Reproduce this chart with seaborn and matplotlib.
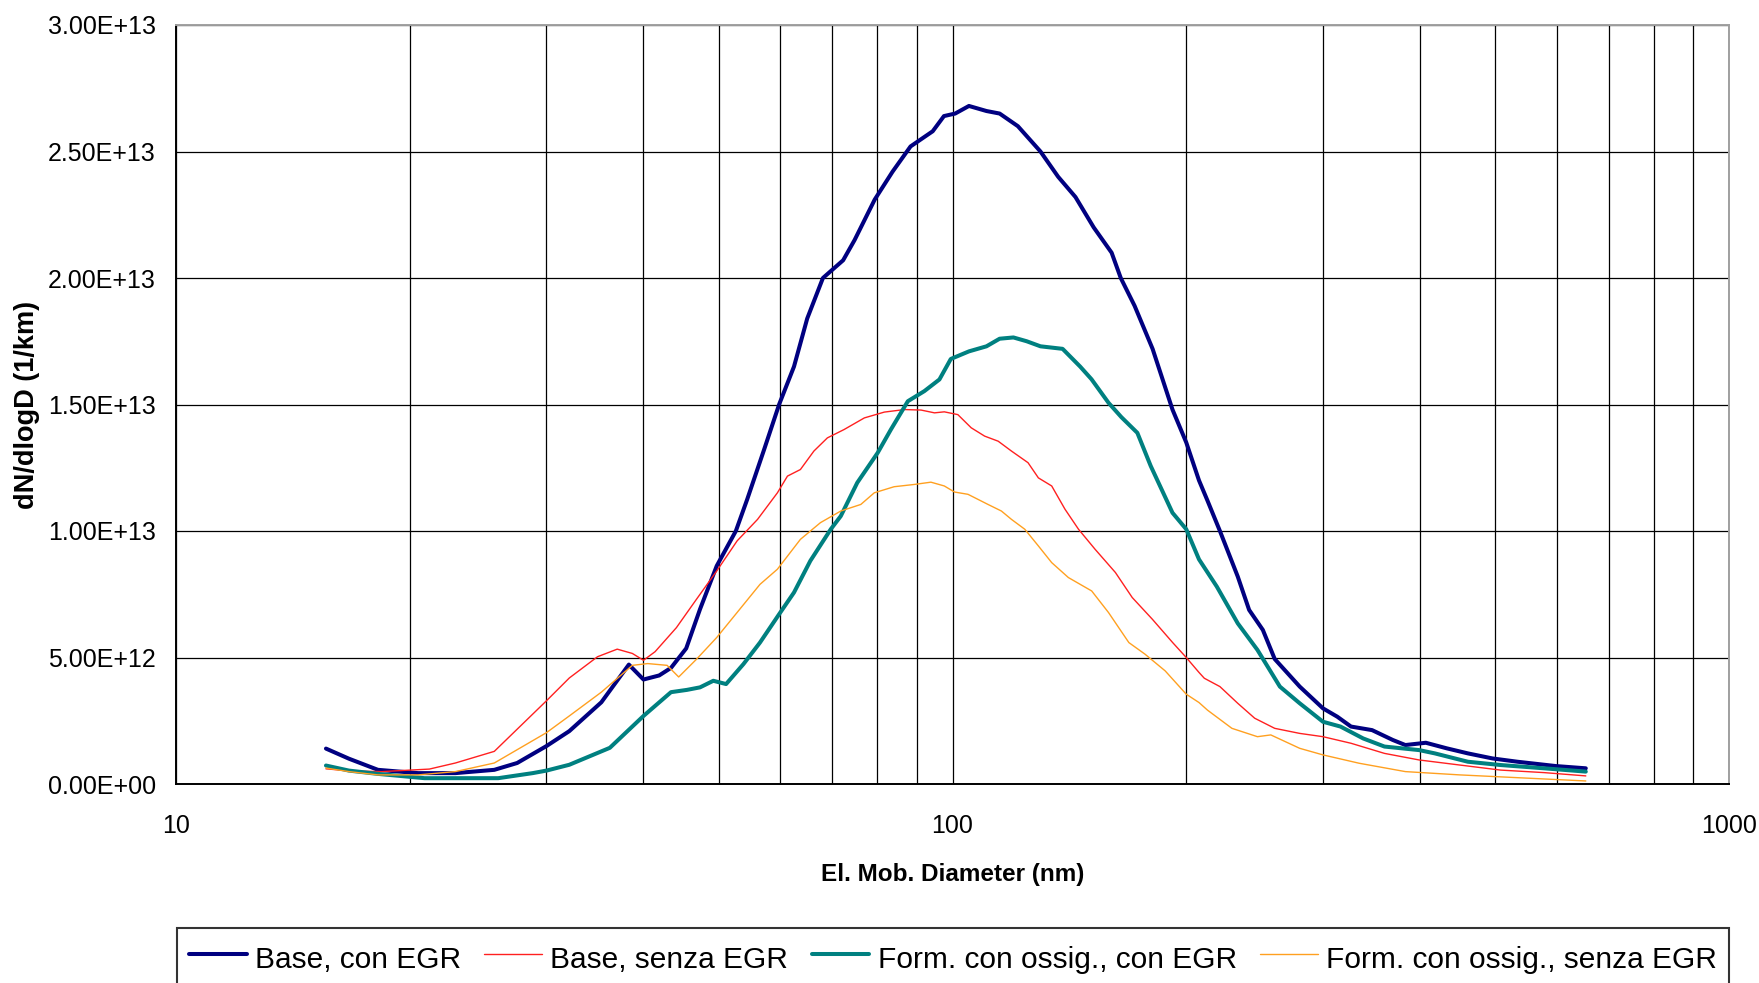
import matplotlib
matplotlib.use("Agg")
import matplotlib.pyplot as plt
import matplotlib.ticker as mticker
import pandas as pd
import seaborn as sns


# Base, con EGR
d_base_egr = [15.6, 16.7, 18.2, 20.5, 22.9, 25.7, 27.5, 30.0, 32.1, 35.3, 38.3, 40.0, 41.9, 43.4,
              45.4, 47.3, 49.7, 52.6, 54.4, 57.2, 59.8, 62.5, 65.0, 68.1, 72.3, 74.8, 79.4, 83.7,
              88.3, 94.3, 97.5, 100.8, 105, 110.6, 115, 121.4, 129.8, 136.8, 144, 152, 160.3,
              164.7, 171.6, 181, 192, 200, 207.7, 213, 221, 233, 241, 251, 260, 280, 300, 313,
              326, 347, 369, 383, 407, 433, 461, 496, 534, 598, 654]
n_base_egr = [1.40e12, 1.00e12, 0.56e12, 0.43e12, 0.43e12, 0.56e12, 0.83e12, 1.50e12, 2.09e12,
              3.23e12, 4.72e12, 4.13e12, 4.29e12, 4.59e12, 5.36e12, 6.91e12, 8.62e12, 1.00e13,
              1.125e13, 1.322e13, 1.50e13, 1.65e13, 1.84e13, 2.00e13, 2.07e13, 2.15e13, 2.31e13,
              2.42e13, 2.52e13, 2.58e13, 2.64e13, 2.65e13, 2.68e13, 2.66e13, 2.65e13, 2.60e13,
              2.50e13, 2.40e13, 2.32e13, 2.20e13, 2.10e13, 2.00e13, 1.89e13, 1.72e13, 1.48e13,
              1.35e13, 1.20e13, 1.12e13, 1.00e13, 8.2e12, 6.88e12, 6.09e12, 4.94e12, 3.85e12,
              2.99e12, 2.66e12, 2.27e12, 2.13e12, 1.74e12, 1.54e12, 1.63e12, 1.41e12, 1.21e12,
              1.01e12, 0.88e12, 0.71e12, 0.62e12]

# Base, senza EGR
d_base_noegr = [15.6, 16.7, 18.4, 21.2, 22.9, 25.7, 30.0, 32.1, 34.9, 37.0, 38.7, 40.0, 41.4,
                44.1, 46.8, 49.7, 52.8, 56.1, 59.5, 61.3, 63.7, 66.3, 69.0, 72.5, 77.0, 81.7,
                86.7, 91.1, 94.8, 97.6, 101.6, 105.7, 110.0, 114.5, 119.1, 125.1, 129.0, 134.2,
                139.6, 145.3, 152.6, 162.1, 170.4, 180.9, 192.1, 200, 207.7, 211, 221, 233, 245,
                260, 280, 300, 326, 360, 399, 450, 508, 578, 654]
n_base_noegr = [0.60e12, 0.52e12, 0.49e12, 0.59e12, 0.83e12, 1.29e12, 3.29e12, 4.19e12, 5.03e12,
                5.33e12, 5.16e12, 4.89e12, 5.23e12, 6.18e12, 7.30e12, 8.42e12, 9.61e12, 1.046e13,
                1.151e13, 1.217e13, 1.243e13, 1.316e13, 1.368e13, 1.401e13, 1.447e13, 1.47e13,
                1.48e13, 1.478e13, 1.467e13, 1.471e13, 1.46e13, 1.408e13, 1.375e13, 1.355e13,
                1.316e13, 1.27e13, 1.21e13, 1.178e13, 1.086e13, 1.007e13, 9.28e12, 8.36e12,
                7.37e12, 6.51e12, 5.59e12, 5.0e12, 4.41e12, 4.18e12, 3.85e12, 3.19e12, 2.60e12,
                2.20e12, 2.00e12, 1.87e12, 1.61e12, 1.21e12, 0.95e12, 0.75e12, 0.55e12, 0.45e12,
                0.32e12]

# Form. con ossig., con EGR
d_ox_egr = [15.6, 16.7, 18.2, 20.9, 26.0, 28.8, 30.0, 32.1, 36.2, 40.0, 43.4, 45.5, 47.3, 49.2,
            51.1, 53.8, 56.5, 59.8, 62.5, 65.6, 69.7, 71.8, 75.4, 80.1, 83.3, 87.6, 92.0, 96.2,
            99.5, 105, 110.6, 115, 119.8, 124.6, 129.8, 138.6, 146, 151, 158.8, 165, 173, 180,
            192, 200, 207.7, 219, 233, 247, 264, 280, 300, 316, 338, 360, 399, 418, 461, 508,
            578, 654]
n_ox_egr = [0.73e12, 0.53e12, 0.40e12, 0.23e12, 0.23e12, 0.43e12, 0.53e12, 0.76e12, 1.43e12,
            2.69e12, 3.63e12, 3.72e12, 3.82e12, 4.08e12, 3.95e12, 4.74e12, 5.59e12, 6.71e12,
            7.57e12, 8.82e12, 1.007e13, 1.059e13, 1.191e13, 1.309e13, 1.401e13, 1.513e13,
            1.553e13, 1.599e13, 1.68e13, 1.71e13, 1.73e13, 1.76e13, 1.765e13, 1.75e13, 1.73e13,
            1.72e13, 1.65e13, 1.60e13, 1.507e13, 1.45e13, 1.388e13, 1.257e13, 1.072e13,
            1.007e13, 8.88e12, 7.80e12, 6.35e12, 5.30e12, 3.85e12, 3.19e12, 2.46e12, 2.27e12,
            1.80e12, 1.48e12, 1.34e12, 1.21e12, 0.88e12, 0.75e12, 0.62e12, 0.49e12]

# Form. con ossig., senza EGR
d_ox_noegr = [15.6, 16.7, 18.2, 20.5, 22.9, 25.7, 30.0, 32.1, 35.3, 38.7, 40.5, 42.9, 44.4,
              46.8, 49.7, 52.8, 56.5, 59.5, 63.7, 67.6, 71.8, 76.2, 79.3, 84.1, 89.3, 93.8,
              97.6, 100.6, 104.7, 111.1, 115.6, 119.1, 123.9, 129.0, 134.2, 141.0, 151.1, 158.8,
              168.7, 177.0, 187.9, 200, 207.7, 213, 229, 247, 257, 280, 300, 334, 383, 450,
              534, 654]
n_ox_noegr = [0.63e12, 0.49e12, 0.36e12, 0.36e12, 0.49e12, 0.83e12, 2.03e12, 2.69e12, 3.63e12,
              4.69e12, 4.76e12, 4.69e12, 4.23e12, 4.93e12, 5.79e12, 6.78e12, 7.89e12, 8.49e12,
              9.67e12, 1.033e13, 1.079e13, 1.105e13, 1.151e13, 1.175e13, 1.184e13, 1.193e13,
              1.178e13, 1.154e13, 1.145e13, 1.105e13, 1.079e13, 1.046e13, 1.007e13, 9.41e12,
              8.75e12, 8.16e12, 7.63e12, 6.78e12, 5.59e12, 5.13e12, 4.47e12, 3.55e12, 3.22e12,
              2.92e12, 2.20e12, 1.87e12, 1.94e12, 1.41e12, 1.15e12, 0.82e12, 0.49e12, 0.36e12,
              0.25e12, 0.12e12]

SERIES = [
    ("Base, con EGR", d_base_egr, n_base_egr, "#000080", 2.9),
    ("Base, senza EGR", d_base_noegr, n_base_noegr, "#FF2020", 1.0),
    ("Form. con ossig., con EGR", d_ox_egr, n_ox_egr, "#008080", 2.9),
    ("Form. con ossig., senza EGR", d_ox_noegr, n_ox_noegr, "#FFA020", 1.0),
]

sns.set_theme(style="white")
plt.rcParams["font.family"] = ["Liberation Sans", "DejaVu Sans"]
plt.rcParams["text.color"] = "black"
plt.rcParams["axes.labelcolor"] = "black"

fig = plt.figure(figsize=(17.59, 9.83), dpi=100)
ax = fig.add_axes([176 / 1759, 1 - 784 / 983, 1553 / 1759, 759 / 983])

for name, d, n, color, lw in SERIES:
    df = pd.DataFrame({"d": d, "n": n})
    sns.lineplot(data=df, x="d", y="n", ax=ax, color=color, linewidth=lw,
                 label=name, estimator=None)

ax.set_xscale("log")
ax.set_xlim(10, 1000)
ax.set_ylim(0, 3e13)
ax.yaxis.set_major_locator(mticker.MultipleLocator(5e12))
ax.yaxis.set_major_formatter(mticker.FuncFormatter(lambda v, p: f"{v:.2E}"))
ax.xaxis.set_major_locator(mticker.LogLocator(base=10))
ax.xaxis.set_major_formatter(mticker.FuncFormatter(lambda v, p: f"{v:g}"))
ax.xaxis.set_minor_locator(mticker.LogLocator(base=10, subs=range(2, 10)))
ax.xaxis.set_minor_formatter(mticker.NullFormatter())

ax.set_axisbelow(True)
ax.grid(True, which="both", axis="x", color="black", linewidth=0.9)
ax.grid(True, which="major", axis="y", color="black", linewidth=0.9)

ax.tick_params(axis="both", which="major", direction="out", length=6.5, width=1.0,
               color="black", labelsize=18, labelcolor="black")
ax.tick_params(axis="x", which="major", pad=15)
ax.tick_params(axis="y", which="major", pad=8)
ax.tick_params(axis="x", which="minor", length=0)

for side in ("left", "bottom"):
    ax.spines[side].set_color("black")
    ax.spines[side].set_linewidth(1.4)
for side in ("top", "right"):
    ax.spines[side].set_color("#A0A0A0")
    ax.spines[side].set_linewidth(1.4)

ax.set_xlabel("El. Mob. Diameter (nm)", fontsize=17.5, fontweight="bold", va="center")
ax.set_ylabel("dN/dlogD (1/km)", fontsize=19.5, fontweight="bold", va="center")
ax.xaxis.set_label_coords(0.5, (784 - 875) / 759)
ax.yaxis.set_label_coords((27 - 176) / 1553, 0.5)

ax.legend_.remove()
handles, labels = ax.get_legend_handles_labels()
leg = fig.legend(handles, labels, loc="upper left",
                 bbox_to_anchor=(177 / 1759, 1 - 928 / 983), bbox_transform=fig.transFigure,
                 ncol=4, fontsize=21.5, frameon=True, fancybox=False, shadow=False,
                 handlelength=1.94, handleheight=1.45, handletextpad=0.27,
                 columnspacing=0.78, borderpad=0.4, borderaxespad=0)
leg.get_frame().set_edgecolor("black")
leg.get_frame().set_linewidth(1.5)

fig.savefig("out.png", dpi=100)
